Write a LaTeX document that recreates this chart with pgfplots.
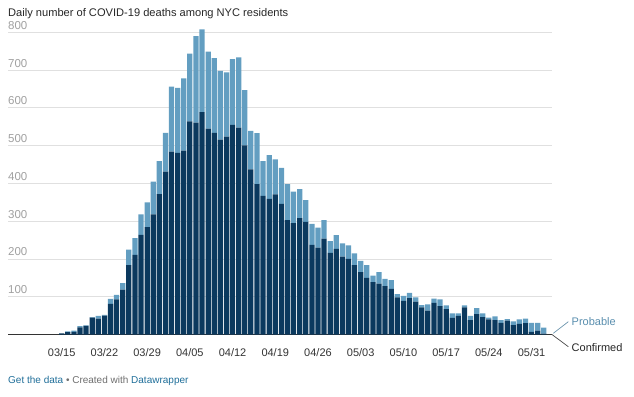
\documentclass[border=0pt]{standalone}
\usepackage{fontspec}
\setmainfont{Liberation Sans}
\usepackage{pgfplots}
\usepackage{pgfplotstable}
\pgfplotsset{compat=1.18}
\definecolor{conf}{RGB}{11,57,94}
\definecolor{prob}{RGB}{99,158,193}
\definecolor{gridc}{RGB}{224,224,224}
\definecolor{ylab}{RGB}{160,160,160}
\definecolor{xlab}{RGB}{51,51,51}
\definecolor{linkc}{RGB}{31,110,153}
\definecolor{footg}{RGB}{110,110,110}
\pgfplotstableread{
x c p
0 3 0
1 6 2
2 7 3
3 19 3
4 23 1
5 45 1
6 42 7
7 50 2
8 81 13
9 93 12
10 119 17
11 184 41
12 211 44
13 264 54
14 284 66
15 318 87
16 372 87
17 431 103
18 484 172
19 481 172
20 487 191
21 564 180
22 561 229
23 589 219
24 545 204
25 534 198
26 516 182
27 524 170
28 555 174
29 548 186
30 501 146
31 437 102
32 398 135
33 367 92
34 359 116
35 371 93
36 346 95
37 303 95
38 295 83
39 308 77
40 298 58
41 237 56
42 230 53
43 254 49
44 216 31
45 227 36
46 206 35
47 200 36
48 184 31
49 165 30
50 150 34
51 139 17
52 135 30
53 128 19
54 121 23
55 98 9
56 89 13
57 96 14
58 87 11
59 72 6
60 63 17
61 84 11
62 75 18
63 67 10
64 44 12
65 49 7
66 72 5
67 38 11
68 54 16
69 46 10
70 40 5
71 38 10
72 31 7
73 37 4
74 25 10
75 28 12
76 30 12
77 7 24
78 10 21
79 2 16
}\data
\begin{document}
\begin{tikzpicture}
\path[use as bounding box] (0,0) rectangle (634bp,397bp);
\node[anchor=base west, inner sep=0pt, text=black!85, font=\fontsize{11.1bp}{13bp}\selectfont] at (8bp,380.7bp) {Daily number of COVID-19 deaths among NYC residents};
\begin{axis}[
  at={(8bp,62.5bp)}, anchor=south west,
  scale only axis, width=543.7bp, height=309.7bp,
  xmin=-8.8, xmax=80.3, ymin=0, ymax=820,
  ybar stacked, bar width=0.86,
  axis line style={draw=none},
  tick style={draw=none},
  ymajorgrids, major grid style={color=gridc, line width=0.8bp},
  ytick={100,200,...,800},
  xtick={0,7,...,77},
  xticklabels={03/15,03/22,03/29,04/05,04/12,04/19,04/26,05/03,05/10,05/17,05/24,05/31},
  /pgf/number format/assume math mode=true,
  yticklabel style={anchor=base west, inner sep=0pt, yshift=3bp, text=ylab, font=\fontsize{11.5bp}{13bp}\selectfont},
  xticklabel style={anchor=base, inner sep=0pt, yshift=-21.5bp, text=xlab, font=\fontsize{11bp}{13bp}\selectfont},
  clip=false,
]
\addplot[fill=conf, draw=none] table[x=x, y=c] {\data};
\addplot[fill=prob, draw=none] table[x=x, y=p] {\data};
\draw[color=black!80, line width=0.8bp] (axis cs:-8.8,0) -- (axis cs:80.3,0);
\end{axis}
\draw[color=prob!70!gray, line width=0.7bp] (553.3bp,63.7bp) -- (568.3bp,75.3bp);
\draw[color=black!70, line width=0.7bp] (551.7bp,62.7bp) -- (568.3bp,50.3bp);
\node[anchor=base west, inner sep=0pt, text=prob!90!black, font=\fontsize{11bp}{13bp}\selectfont] at (571.5bp,71bp) {Probable};
\node[anchor=base west, inner sep=0pt, text=black!85, font=\fontsize{11bp}{13bp}\selectfont] at (571.5bp,45.5bp) {Confirmed};
\node[anchor=base west, inner sep=0pt, font=\fontsize{10bp}{12bp}\selectfont] at (8bp,14bp) {\textcolor{linkc}{Get the data} \textcolor{footg}{\textbullet{} Created with} \textcolor{linkc}{Datawrapper}};
\end{tikzpicture}
\end{document}
